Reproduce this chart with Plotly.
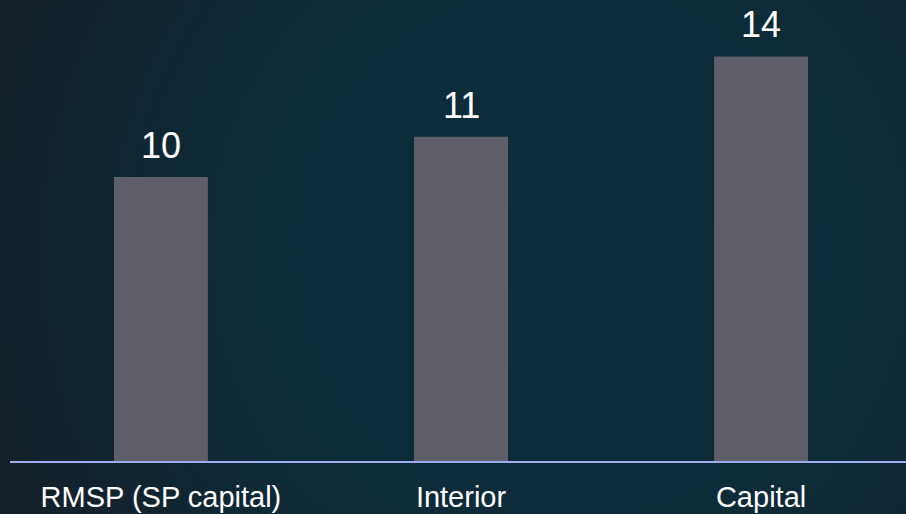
import base64
import plotly.graph_objects as go

categories = ["RMSP (SP capital)", "Interior", "Capital"]
values = [9.9, 11.3, 14.1]
value_labels = ["10", "11", "14"]

W, H = 906, 514
ML, MR, MT, MB = 10, 0, 0, 53
BAR_COLOR = "#5f5f69"
AXIS_COLOR = "#a2adee"
FONT = "'Liberation Sans', Arial, sans-serif"

svg = f'''<svg xmlns="http://www.w3.org/2000/svg" width="{W}" height="{H}" viewBox="0 0 {W} {H}" preserveAspectRatio="none">
<defs><radialGradient id="g" gradientUnits="userSpaceOnUse" cx="560" cy="250" r="640">
<stop offset="0" stop-color="#0b2e3b"/><stop offset="0.55" stop-color="#0e2a37"/><stop offset="1" stop-color="#151e27"/>
</radialGradient></defs><rect width="{W}" height="{H}" fill="url(#g)"/></svg>'''
bg_src = "data:image/svg+xml;base64," + base64.b64encode(svg.encode()).decode()

pw = W - ML - MR
ph = H - MT - MB

fig = go.Figure()
fig.add_trace(go.Bar(
    x=categories, y=values, width=0.313,
    marker=dict(color=BAR_COLOR, line=dict(width=0)),
    hoverinfo="skip",
))
for c, v, t in zip(categories, values, value_labels):
    fig.add_annotation(x=c, y=v, text=t, showarrow=False, yanchor="bottom",
                       yshift=9, font=dict(family=FONT, size=36, color="#ffffff"))

fig.update_layout(
    width=W, height=H,
    margin=dict(l=ML, r=MR, t=MT, b=MB, pad=0),
    paper_bgcolor="#0e2a37", plot_bgcolor="rgba(0,0,0,0)",
    showlegend=False,
    images=[dict(source=bg_src, xref="paper", yref="paper",
                 x=-ML / pw, y=1 + MT / ph, sizex=W / pw, sizey=H / ph,
                 xanchor="left", yanchor="top", sizing="stretch", layer="below")],
    xaxis=dict(range=[-0.503, 2.483], showgrid=False, zeroline=False,
               showline=True, linecolor=AXIS_COLOR, linewidth=2,
               ticks="", ticklabelstandoff=9,
               tickfont=dict(family=FONT, size=29, color="#ffffff"),
               fixedrange=True),
    yaxis=dict(range=[0, 461 / 28.69], visible=False, showgrid=False,
               zeroline=False, fixedrange=True),
)

fig.write_html("out.html", config={"displayModeBar": False},
               post_script="document.body.style.margin='0';document.body.style.background='#0e2a37';")
